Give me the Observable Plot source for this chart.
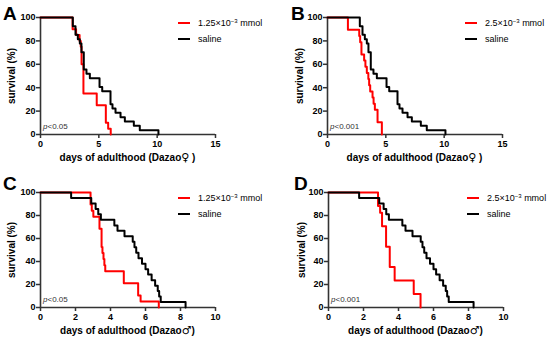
<!DOCTYPE html>
<html>
<head>
<meta charset="utf-8">
<script src="https://cdn.jsdelivr.net/npm/d3@7"></script>
<script src="https://cdn.jsdelivr.net/npm/@observablehq/plot@0.6"></script>
<style>
  body { margin: 0; background: #fff; }
  #wrap { position: relative; width: 550px; height: 339px; font-family: "Liberation Sans", Arial, sans-serif; color: #000; overflow: hidden; }
  .panel { position: absolute; width: 275px; }
  .panel svg { position: absolute; left: 0; top: 0; }
  .letter { position: absolute; font-size: 19px; font-weight: bold; line-height: 1; }
  .ytitle { position: absolute; font-size: 10px; font-weight: bold; white-space: nowrap; transform: translate(-50%, -50%) rotate(-90deg); line-height: 1; }
  .xtitle { position: absolute; font-size: 10px; font-weight: bold; white-space: nowrap; transform: translate(-50%, -50%); line-height: 1; }
  .sym { font-family: "DejaVu Sans", sans-serif; font-size: 11px; font-weight: bold; }
  .pval { position: absolute; font-size: 8px; color: #333; white-space: nowrap; line-height: 1; }
  .leg { position: absolute; font-size: 9px; white-space: nowrap; line-height: 1; transform: translateY(-50%); }
  .legline { position: absolute; width: 12px; height: 2px; transform: translateY(-50%); }
  sup { font-size: 6px; vertical-align: 3px; }
</style>
</head>
<body>
<div id="wrap"></div>
<script>
// ---- data ----
// saline, female (panels A and B)
const salineF_t = [0, 2.77, 3.0, 3.2, 3.37, 3.51, 3.71, 3.94, 4.23, 5.06, 5.29, 6.0, 6.17, 6.43, 6.86, 7.23, 8.0, 8.51, 10.11];
const salineF_s = [100, 92.6, 85.2, 81.5, 77.8, 70.4, 55.6, 51.9, 48.1, 40.7, 37.0, 25.9, 22.2, 18.5, 14.8, 11.1, 7.4, 3.7, 0];
// 1.25e-3 mmol, female (A)
const lowF_t = [0, 2.75, 3.05, 3.35, 3.45, 3.52, 3.68, 4.82, 5.6, 5.8, 6.02];
const lowF_s = [100, 90, 85, 80, 75, 60, 35, 25, 10, 5, 0];
// 2.5e-3 mmol, female (B)
const highF_t = [0, 1.75, 2.72, 2.8, 2.91, 3.14, 3.25, 3.37, 3.5, 3.57, 3.66, 3.86, 3.95, 4.06, 4.29, 4.66];
const highF_s = [100, 89.5, 84.2, 78.9, 68.4, 63.2, 57.9, 52.6, 47.4, 42.1, 36.8, 31.6, 26.3, 21.1, 10.5, 0];
// saline, male (panels C and D)
const salineM_t = [0, 1.75, 2.9, 3.15, 3.3, 3.45, 4.22, 4.4, 4.8, 5.27, 5.37, 5.47, 5.6, 5.8, 6.0, 6.15, 6.35, 6.55, 6.7, 6.78, 6.87, 8.29];
const salineM_s = [100, 95.2, 90.5, 85.7, 81.0, 76.2, 71.4, 66.7, 61.9, 57.1, 52.4, 47.6, 42.9, 38.1, 33.3, 28.6, 23.8, 19.0, 14.3, 9.5, 4.8, 0];
// 1.25e-3 mmol, male (C)
const lowM_t = [0, 2.86, 2.93, 3.02, 3.37, 3.49, 3.54, 3.6, 3.65, 3.7, 4.76, 5.58, 5.72, 6.76];
const lowM_s = [100, 89.5, 84.2, 78.9, 68.4, 52.6, 47.4, 42.1, 36.8, 31.6, 21.1, 10.5, 5.3, 0];
// 2.5e-3 mmol, male (D)
const highM_t = [0, 2.83, 2.95, 3.06, 3.29, 3.5, 3.78, 4.87, 5.26];
const highM_s = [100, 88.2, 82.4, 70.6, 52.9, 35.3, 23.5, 11.8, 0];

const yTicks = [0, 20, 40, 60, 80, 100];
const xTicksF = [0, 5, 10, 15];
const xTicksM = [0, 2, 4, 6, 8, 10];

const panels = [
  {letter: "A", left: 0, top: 0, h: 170, mL: 40, mR: 60, mT: 17, mB: 36, xmax: 15, xticks: xTicksF,
   ctrl: [salineF_t, salineF_s], trt: [lowF_t, lowF_s], dose: "1.25", sym: "♀", after: " )", p: "<0.05",
   letterX: 3, yTitleX: 12, legX: 178},
  {letter: "B", left: 275, top: 0, h: 170, mL: 52, mR: 48, mT: 17, mB: 36, xmax: 15, xticks: xTicksF,
   ctrl: [salineF_t, salineF_s], trt: [highF_t, highF_s], dose: "2.5", sym: "♀", after: " )", p: "<0.001",
   letterX: 16, yTitleX: 25, legX: 190},
  {letter: "C", left: 0, top: 170, h: 169, mL: 40, mR: 60, mT: 22, mB: 32, xmax: 10, xticks: xTicksM,
   ctrl: [salineM_t, salineM_s], trt: [lowM_t, lowM_s], dose: "1.25", sym: "♂", after: ")", p: "<0.05",
   letterX: 3, yTitleX: 12, legX: 178},
  {letter: "D", left: 275, top: 170, h: 169, mL: 53, mR: 47, mT: 22, mB: 32, xmax: 10, xticks: xTicksM,
   ctrl: [salineM_t, salineM_s], trt: [highM_t, highM_s], dose: "2.5", sym: "♂", after: ")", p: "<0.001",
   letterX: 19, yTitleX: 27, legX: 192}
];

const wrap = document.getElementById("wrap");
const toRows = ([t, s]) => t.map((v, i) => ({t: v, s: s[i]}));

for (const P of panels) {
  const div = document.createElement("div");
  div.className = "panel";
  div.style.left = P.left + "px";
  div.style.top = P.top + "px";
  div.style.height = P.h + "px";

  const chart = Plot.plot({
    width: 275, height: P.h,
    marginLeft: P.mL, marginRight: P.mR, marginTop: P.mT, marginBottom: P.mB,
    style: {fontFamily: '"Liberation Sans", Arial, sans-serif', fontSize: "9px", fontWeight: "bold", color: "#000", background: "transparent", overflow: "visible"},
    x: {domain: [0, P.xmax], label: null},
    y: {domain: [0, 100], label: null},
    marks: [
      Plot.axisY({ticks: yTicks, tickSize: 4, tickPadding: 1, label: null, stroke: "#333", strokeWidth: 1.5, fill: "#000"}),
      Plot.axisX({ticks: P.xticks, tickSize: 4, tickPadding: 2, label: null, stroke: "#333", strokeWidth: 1.5, fill: "#000"}),
      Plot.ruleX([0], {stroke: "#333", strokeWidth: 1.6}),
      Plot.ruleY([0], {stroke: "#333", strokeWidth: 1.6}),
      Plot.line(toRows(P.trt), {x: "t", y: "s", curve: "step-after", stroke: "#ff0000", strokeWidth: 2}),
      Plot.line(toRows(P.ctrl), {x: "t", y: "s", curve: "step-after", stroke: "#000", strokeWidth: 2})
    ]
  });
  div.appendChild(chart);

  const plotBottom = P.h - P.mB;
  const plotRight = 275 - P.mR;

  const letter = document.createElement("div");
  letter.className = "letter";
  letter.textContent = P.letter;
  letter.style.left = P.letterX + "px";
  letter.style.top = "4px";
  div.appendChild(letter);

  const yt = document.createElement("div");
  yt.className = "ytitle";
  yt.textContent = "survival (%)";
  yt.style.left = P.yTitleX + "px";
  yt.style.top = ((P.mT + plotBottom) / 2) + "px";
  div.appendChild(yt);

  const xt = document.createElement("div");
  xt.className = "xtitle";
  xt.innerHTML = "days of adulthood (Dazao<span class=\"sym\">" + P.sym + "</span>" + P.after;
  xt.style.left = ((P.mL + plotRight) / 2) + "px";
  xt.style.top = (plotBottom + 23) + "px";
  div.appendChild(xt);

  const pv = document.createElement("div");
  pv.className = "pval";
  pv.innerHTML = "<i>p</i>" + P.p;
  pv.style.left = (P.mL + 3) + "px";
  pv.style.top = (plotBottom - 11) + "px";
  div.appendChild(pv);

  const legY1 = P.mT + 6, legY2 = P.mT + 22;
  const l1 = document.createElement("div");
  l1.className = "legline"; l1.style.background = "#ff0000";
  l1.style.left = P.legX + "px"; l1.style.top = legY1 + "px";
  div.appendChild(l1);
  const t1 = document.createElement("div");
  t1.className = "leg";
  t1.innerHTML = P.dose + "×10<sup>−3</sup> mmol";
  t1.style.left = (P.legX + 20) + "px"; t1.style.top = legY1 + "px";
  div.appendChild(t1);
  const l2 = document.createElement("div");
  l2.className = "legline"; l2.style.background = "#000";
  l2.style.left = P.legX + "px"; l2.style.top = legY2 + "px";
  div.appendChild(l2);
  const t2 = document.createElement("div");
  t2.className = "leg";
  t2.textContent = "saline";
  t2.style.left = (P.legX + 20) + "px"; t2.style.top = legY2 + "px";
  div.appendChild(t2);

  wrap.appendChild(div);
}
</script>
</body>
</html>
